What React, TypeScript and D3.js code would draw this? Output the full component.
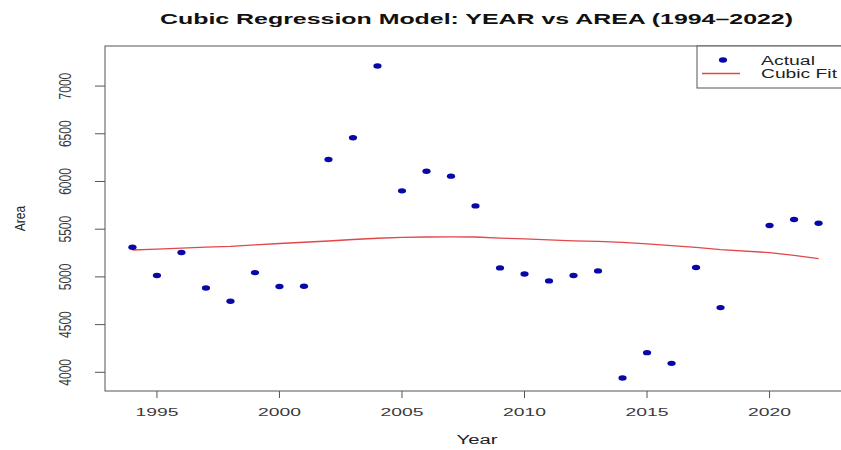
import React from "react";
import * as d3 from "d3";

// Observed planted area per year (2019 has no observation)
const years = [1994, 1995, 1996, 1997, 1998, 1999, 2000, 2001, 2002, 2003, 2004, 2005, 2006, 2007, 2008, 2009, 2010, 2011, 2012, 2013, 2014, 2015, 2016, 2017, 2018, 2020, 2021, 2022];
const area = [5311, 5014, 5255, 4884, 4745, 5045, 4899, 4902, 6231, 6458, 7210, 5902, 6108, 6056, 5744, 5094, 5031, 4958, 5014, 5063, 3940, 4206, 4094, 5098, 4678, 5539, 5602, 5563];

// Model predictions at the same years
const fitted = [5282, 5292, 5302, 5311, 5320, 5336, 5350, 5363, 5376, 5392, 5405, 5415, 5418, 5419, 5418, 5406, 5398, 5388, 5378, 5372, 5362, 5345, 5328, 5310, 5285, 5255, 5225, 5191];

const xTicks = [1995, 2000, 2005, 2010, 2015, 2020];
const yTicks = [4000, 4500, 5000, 5500, 6000, 6500, 7000];

const titleText = "Cubic Regression Model: YEAR vs AREA (1994\u20132022)";
const xLabel = "Year";
const yLabel = "Area";
const legendLabels = ["Actual", "Cubic Fit"];

const FONT = "'Liberation Sans', Arial, Helvetica, sans-serif";

export default function App() {
  const W = 841;
  const H = 450;
  const left = 105;
  const right = 846;
  const top = 46;
  const bottom = 391;

  const x = d3.scaleLinear().domain([1992.88, 2023.12]).range([left, right]);
  const y = d3.scaleLinear().domain([3804, 7420]).range([bottom, top]);

  const fitPts: [number, number][] = years.map((yr, i) => [yr, fitted[i]]);
  const line = d3
    .line<[number, number]>()
    .x((d) => x(d[0]))
    .y((d) => y(d[1]));

  const frame = "#555";
  const textCol = "#3a3a3a";
  const dotCol = "#0808a8";
  const red = "#e2474a";

  return (
    <svg
      width={W}
      height={H}
      style={{ position: "absolute", left: 0, top: 0, display: "block", background: "#fff" }}
      fontFamily={FONT}
    >
      <rect x={0} y={0} width={W} height={H} fill="#fff" />

      {/* title */}
      <text
        x={476.5}
        y={23.5}
        textAnchor="middle"
        fontSize={14}
        fontWeight="bold"
        fill="#111"
        textLength={633}
        lengthAdjust="spacingAndGlyphs"
      >
        {titleText}
      </text>

      {/* fitted curve */}
      <path d={line(fitPts) ?? ""} fill="none" stroke={red} strokeWidth={1.3} />

      {/* observations */}
      {years.map((yr, i) => (
        <ellipse key={yr} cx={x(yr)} cy={y(area[i])} rx={4.1} ry={2.7} fill={dotCol} />
      ))}

      {/* plot frame */}
      <rect x={left} y={top} width={right - left} height={bottom - top} fill="none" stroke={frame} strokeWidth={1} />

      {/* x axis */}
      {xTicks.map((t) => (
        <g key={t}>
          <line x1={x(t)} x2={x(t)} y1={bottom} y2={bottom + 7} stroke={frame} />
          <text
            x={x(t)}
            y={416}
            textAnchor="middle"
            fontSize={11}
            fill={textCol}
            textLength={43}
            lengthAdjust="spacingAndGlyphs"
          >
            {t}
          </text>
        </g>
      ))}
      <text x={477} y={444} textAnchor="middle" fontSize={12} fill="#222" textLength={41} lengthAdjust="spacingAndGlyphs">
        {xLabel}
      </text>

      {/* y axis */}
      {yTicks.map((t) => (
        <g key={t}>
          <line x1={left - 10} x2={left} y1={y(t)} y2={y(t)} stroke={frame} />
          <g transform={`translate(65,${y(t)}) scale(1.3,1) rotate(-90)`}>
            <text textAnchor="middle" dy="0.36em" fontSize={12} fill={textCol}>
              {t}
            </text>
          </g>
        </g>
      ))}
      <g transform={`translate(20,${(top + bottom) / 2}) scale(1.2,1) rotate(-90)`}>
        <text textAnchor="middle" dy="0.36em" fontSize={12} fill="#222">
          {yLabel}
        </text>
      </g>

      {/* legend */}
      <rect x={697} y={top} width={160} height={42} fill="#fff" stroke={frame} strokeWidth={1} />
      <ellipse cx={723} cy={60} rx={4.1} ry={2.7} fill={dotCol} />
      <line x1={702} x2={740} y1={73.5} y2={73.5} stroke={red} strokeWidth={1.3} />
      <text x={761} y={64.5} fontSize={12} fill="#222" textLength={54} lengthAdjust="spacingAndGlyphs">
        {legendLabels[0]}
      </text>
      <text x={761} y={78} fontSize={12} fill="#222" textLength={76} lengthAdjust="spacingAndGlyphs">
        {legendLabels[1]}
      </text>
    </svg>
  );
}
